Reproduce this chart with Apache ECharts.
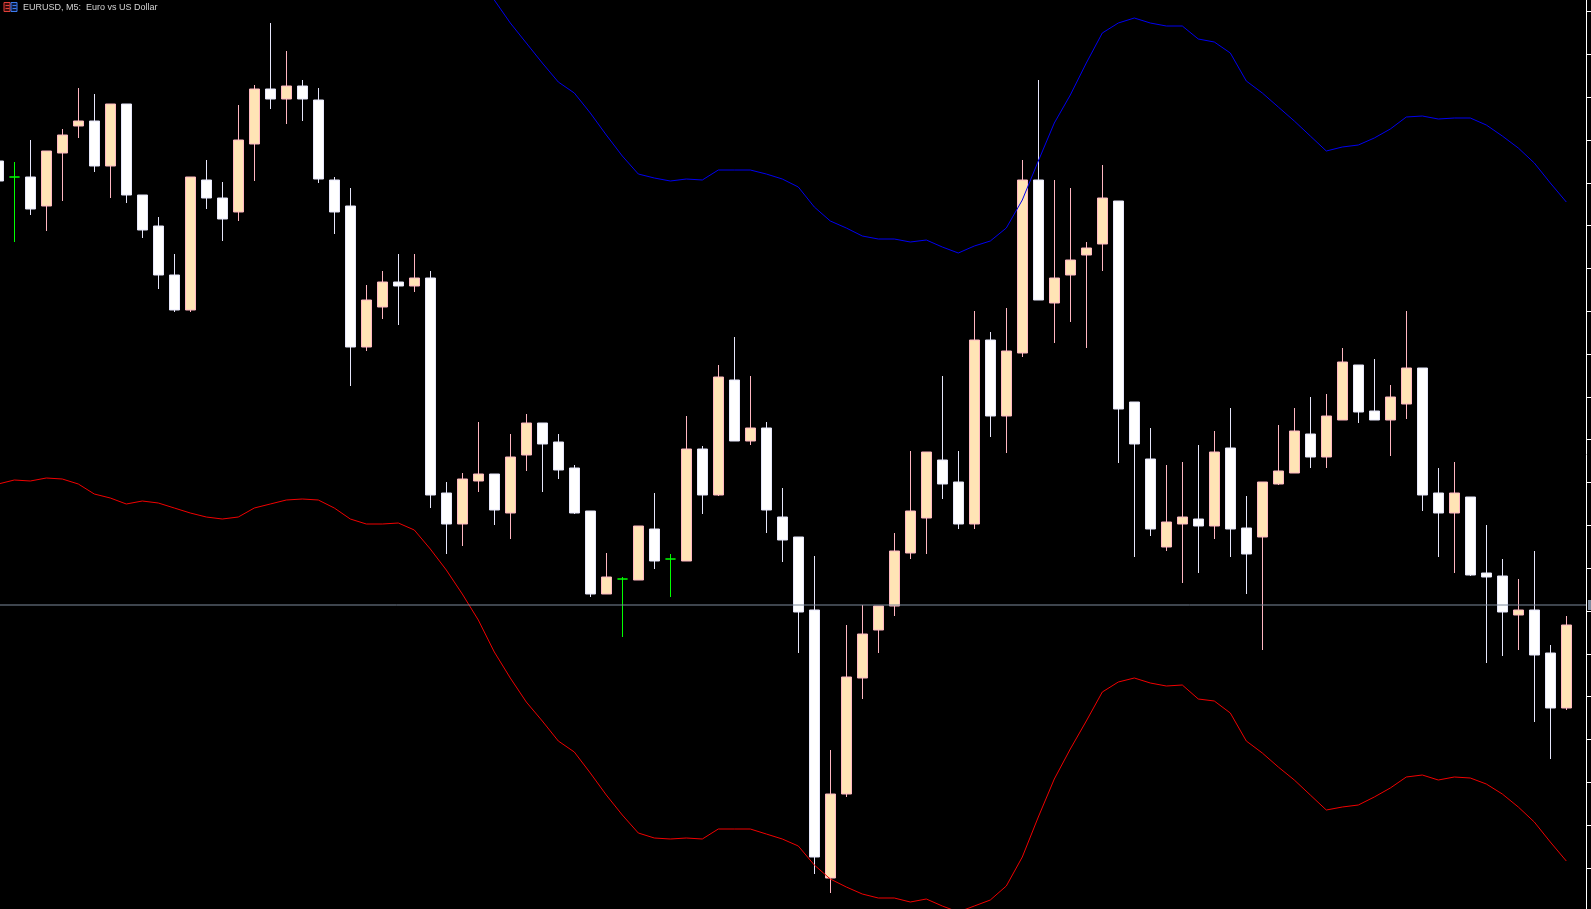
<!DOCTYPE html>
<html>
<head>
<meta charset="utf-8" />
<script src="https://cdn.jsdelivr.net/npm/echarts@6/dist/echarts.min.js"></script>
<style>
    html, body, #main {
        width: 100%;
        height: 100%;
        margin: 0;
        padding: 0;
        background: #000;
    }
</style>
</head>
<body>
<div id="main"></div>
<script>
// EURUSD M5 bars, oldest first
var times = [
    '10:00','10:05','10:10','10:15','10:20','10:25','10:30','10:35','10:40','10:45','10:50','10:55',
    '11:00','11:05','11:10','11:15','11:20','11:25','11:30','11:35','11:40','11:45','11:50','11:55',
    '12:00','12:05','12:10','12:15','12:20','12:25','12:30','12:35','12:40','12:45','12:50','12:55',
    '13:00','13:05','13:10','13:15','13:20','13:25','13:30','13:35','13:40','13:45','13:50','13:55',
    '14:00','14:05','14:10','14:15','14:20','14:25','14:30','14:35','14:40','14:45','14:50','14:55',
    '15:00','15:05','15:10','15:15','15:20','15:25','15:30','15:35','15:40','15:45','15:50','15:55',
    '16:00','16:05','16:10','16:15','16:20','16:25','16:30','16:35','16:40','16:45','16:50','16:55',
    '17:00','17:05','17:10','17:15','17:20','17:25','17:30','17:35','17:40','17:45','17:50','17:55',
    '18:00','18:05','18:10'
];

var opens = [
    1.08839, 1.08823, 1.08823, 1.08794, 1.08847, 1.08874, 1.08879, 1.08834, 1.08896, 1.08805,
    1.08774, 1.08725, 1.08690, 1.08820, 1.08802, 1.08788, 1.08856, 1.08911, 1.08901, 1.08914,
    1.08900, 1.08820, 1.08794, 1.08653, 1.08693, 1.08718, 1.08714, 1.08722, 1.08507, 1.08476,
    1.08519, 1.08526, 1.08487, 1.08545, 1.08577, 1.08558, 1.08532, 1.08489, 1.08406, 1.08421,
    1.08420, 1.08471, 1.08441, 1.08439, 1.08551, 1.08505, 1.08620, 1.08559, 1.08572, 1.08483,
    1.08463, 1.08390, 1.08122, 1.08206, 1.08322, 1.08370, 1.08394, 1.08447, 1.08482, 1.08540,
    1.08518, 1.08476, 1.08660, 1.08584, 1.08647, 1.08820, 1.08697, 1.08725, 1.08745, 1.08756,
    1.08799, 1.08598, 1.08541, 1.08453, 1.08476, 1.08481, 1.08474, 1.08552, 1.08472, 1.08463,
    1.08516, 1.08527, 1.08566, 1.08543, 1.08580, 1.08635, 1.08589, 1.08580, 1.08596, 1.08632,
    1.08507, 1.08487, 1.08503, 1.08427, 1.08424, 1.08385, 1.08390, 1.08347, 1.08292
];

var closes = [
    1.08819, 1.08823, 1.08791, 1.08849, 1.08865, 1.08879, 1.08834, 1.08896, 1.08805, 1.08770,
    1.08725, 1.08690, 1.08823, 1.08802, 1.08781, 1.08860, 1.08911, 1.08901, 1.08914, 1.08901,
    1.08821, 1.08788, 1.08653, 1.08700, 1.08718, 1.08714, 1.08722, 1.08505, 1.08476, 1.08521,
    1.08526, 1.08490, 1.08543, 1.08577, 1.08556, 1.08530, 1.08487, 1.08406, 1.08423, 1.08421,
    1.08474, 1.08439, 1.08441, 1.08551, 1.08505, 1.08623, 1.08559, 1.08572, 1.08490, 1.08460,
    1.08388, 1.08143, 1.08206, 1.08323, 1.08366, 1.08394, 1.08449, 1.08489, 1.08548, 1.08516,
    1.08476, 1.08660, 1.08584, 1.08649, 1.08820, 1.08700, 1.08722, 1.08740, 1.08752, 1.08802,
    1.08591, 1.08556, 1.08471, 1.08478, 1.08483, 1.08474, 1.08548, 1.08471, 1.08446, 1.08518,
    1.08529, 1.08569, 1.08543, 1.08584, 1.08638, 1.08588, 1.08580, 1.08603, 1.08632, 1.08505,
    1.08487, 1.08507, 1.08425, 1.08423, 1.08388, 1.08390, 1.08345, 1.08292, 1.08375
];

var highs = [
    1.08845, 1.08838, 1.08860, 1.08849, 1.08871, 1.08912, 1.08906, 1.08896, 1.08896, 1.08805,
    1.08783, 1.08746, 1.08823, 1.08840, 1.08818, 1.08895, 1.08915, 1.08977, 1.08949, 1.08920,
    1.08912, 1.08823, 1.08812, 1.08715, 1.08729, 1.08746, 1.08746, 1.08729, 1.08518, 1.08527,
    1.08578, 1.08526, 1.08566, 1.08586, 1.08577, 1.08566, 1.08535, 1.08489, 1.08447, 1.08423,
    1.08474, 1.08507, 1.08446, 1.08584, 1.08554, 1.08635, 1.08663, 1.08624, 1.08578, 1.08512,
    1.08463, 1.08444, 1.08250, 1.08375, 1.08395, 1.08394, 1.08467, 1.08549, 1.08548, 1.08624,
    1.08549, 1.08689, 1.08668, 1.08692, 1.08840, 1.08920, 1.08820, 1.08812, 1.08758, 1.08835,
    1.08799, 1.08598, 1.08572, 1.08535, 1.08538, 1.08555, 1.08569, 1.08592, 1.08504, 1.08518,
    1.08575, 1.08592, 1.08603, 1.08606, 1.08652, 1.08635, 1.08641, 1.08615, 1.08689, 1.08632,
    1.08532, 1.08538, 1.08503, 1.08475, 1.08441, 1.08421, 1.08449, 1.08355, 1.08384
];

var lows = [
    1.08810, 1.08758, 1.08785, 1.08769, 1.08799, 1.08862, 1.08828, 1.08802, 1.08797, 1.08762,
    1.08711, 1.08688, 1.08688, 1.08791, 1.08759, 1.08779, 1.08819, 1.08891, 1.08876, 1.08879,
    1.08817, 1.08766, 1.08614, 1.08649, 1.08681, 1.08675, 1.08708, 1.08492, 1.08446, 1.08454,
    1.08508, 1.08475, 1.08461, 1.08529, 1.08508, 1.08521, 1.08486, 1.08403, 1.08406, 1.08363,
    1.08420, 1.08431, 1.08403, 1.08439, 1.08486, 1.08504, 1.08559, 1.08555, 1.08467, 1.08438,
    1.08347, 1.08126, 1.08107, 1.08203, 1.08301, 1.08347, 1.08384, 1.08441, 1.08446, 1.08501,
    1.08471, 1.08471, 1.08563, 1.08547, 1.08643, 1.08700, 1.08657, 1.08678, 1.08652, 1.08729,
    1.08537, 1.08443, 1.08464, 1.08449, 1.08417, 1.08427, 1.08461, 1.08443, 1.08406, 1.08350,
    1.08515, 1.08527, 1.08532, 1.08532, 1.08580, 1.08577, 1.08580, 1.08544, 1.08581, 1.08489,
    1.08443, 1.08427, 1.08424, 1.08337, 1.08344, 1.08350, 1.08278, 1.08241, 1.08290
];

// bollinger bands as shown on the chart (upper one is off the top at first)
var upperBand = [
    null, null, null, null, null, null, null, null, null, null,
    null, null, null, null, null, null, null, null, null, null,
    null, null, null, null, null, null, null, null, null,
    1.09044, 1.09022, 1.09000, 1.08977, 1.08957, 1.08937, 1.08918, 1.08907, 1.08887, 1.08865,
    1.08844, 1.08826, 1.08822, 1.08819, 1.08821, 1.08820, 1.08830, 1.08830, 1.08830, 1.08826,
    1.08821, 1.08813, 1.08793, 1.08779, 1.08772, 1.08764, 1.08761, 1.08761, 1.08758, 1.08760,
    1.08753, 1.08747, 1.08754, 1.08759, 1.08772, 1.08800, 1.08839, 1.08877, 1.08905, 1.08937,
    1.08967, 1.08977, 1.08982, 1.08977, 1.08974, 1.08974, 1.08961, 1.08958, 1.08947, 1.08919,
    1.08907, 1.08893, 1.08879, 1.08864, 1.08849, 1.08853, 1.08855, 1.08862, 1.08871, 1.08883,
    1.08884, 1.08881, 1.08882, 1.08882, 1.08875, 1.08864, 1.08852, 1.08837, 1.08817, 1.08798
];

var lowerBand = [
    1.08516, 1.08520, 1.08519, 1.08522, 1.08521, 1.08516, 1.08506, 1.08502, 1.08496, 1.08499,
    1.08497, 1.08492, 1.08487, 1.08483, 1.08481, 1.08483, 1.08492, 1.08496, 1.08500, 1.08501,
    1.08500, 1.08492, 1.08481, 1.08476, 1.08476, 1.08477, 1.08470, 1.08451, 1.08430, 1.08406,
    1.08380, 1.08348, 1.08322, 1.08298, 1.08279, 1.08259, 1.08248, 1.08227, 1.08205, 1.08185,
    1.08167, 1.08162, 1.08161, 1.08162, 1.08161, 1.08171, 1.08171, 1.08171, 1.08166, 1.08161,
    1.08154, 1.08135, 1.08121, 1.08113, 1.08106, 1.08102, 1.08102, 1.08098, 1.08101, 1.08094,
    1.08088, 1.08094, 1.08100, 1.08114, 1.08143, 1.08183, 1.08221, 1.08251, 1.08279, 1.08308,
    1.08318, 1.08322, 1.08317, 1.08314, 1.08315, 1.08301, 1.08299, 1.08287, 1.08259, 1.08247,
    1.08233, 1.08220, 1.08205, 1.08190, 1.08193, 1.08195, 1.08203, 1.08212, 1.08223, 1.08225,
    1.08220, 1.08223, 1.08222, 1.08216, 1.08206, 1.08193, 1.08178, 1.08158, 1.08139
];

// unlabelled price-scale tick marks
var priceTicks = [
    1.0898840, 1.0894559, 1.0890278, 1.0885997, 1.0881716, 1.0877435, 1.0873154,
    1.0868873, 1.0864592, 1.0860311, 1.0856030, 1.0851749, 1.0847468, 1.0843187,
    1.0838906, 1.0834625, 1.0830344, 1.0826063, 1.0821782, 1.0817501, 1.0813220
];

var priceLine = 1.08395;
var priceMin = 1.08091;
var priceMax = 1.09000;
// bar index range shown (first bar is cut by the left edge)
var barMin = 0.10625;
var barMax = 99.23125;

var chart = echarts.init(document.getElementById('main'));

var dojiStyle = {
    color: '#00ff00', color0: '#00ff00',
    borderColor: '#00ff00', borderColor0: '#00ff00', borderColorDoji: '#00ff00'
};
var candles = [];
var upperData = [];
var lowerData = [];
for (var i = 0; i < times.length; i++) {
    var item = { value: [i, opens[i], closes[i], lows[i], highs[i]] };
    if (opens[i] === closes[i]) item.itemStyle = dojiStyle;
    candles.push(item);
    upperData.push([i, upperBand[i]]);
    lowerData.push([i, lowerBand[i]]);
}

chart.setOption({
    backgroundColor: '#000000',
    animation: false,
    title: {
        text: 'EURUSD, M5:  Euro vs US Dollar',
        left: 23,
        top: 3,
        padding: 0,
        textStyle: {
            color: '#d4d4d4',
            fontSize: 9,
            fontWeight: 'normal',
            fontFamily: 'Liberation Sans'
        }
    },
    graphic: [
        {
            type: 'group',
            left: 3,
            top: 2,
            children: [
                { type: 'rect', shape: { x: 0.5, y: 0.5, width: 6, height: 9 }, style: { fill: '#3a0b0b', stroke: '#e0403a', lineWidth: 1 } },
                { type: 'line', shape: { x1: 2, y1: 3.5, x2: 6, y2: 3.5 }, style: { stroke: '#e0403a' } },
                { type: 'line', shape: { x1: 2, y1: 6.5, x2: 6, y2: 6.5 }, style: { stroke: '#e0403a' } },
                { type: 'rect', shape: { x: 7.5, y: 0.5, width: 6, height: 9 }, style: { fill: '#0b1a3e', stroke: '#3c7cf0', lineWidth: 1 } },
                { type: 'line', shape: { x1: 9, y1: 3.5, x2: 13, y2: 3.5 }, style: { stroke: '#3c7cf0' } },
                { type: 'line', shape: { x1: 9, y1: 6.5, x2: 13, y2: 6.5 }, style: { stroke: '#3c7cf0' } }
            ]
        }
    ],
    grid: { left: 0, right: 5, top: 0, bottom: 0 },
    xAxis: {
        type: 'value',
        min: barMin,
        max: barMax,
        show: false
    },
    yAxis: {
        type: 'value',
        min: priceMin,
        max: priceMax,
        position: 'right',
        axisLine: { show: true, lineStyle: { color: '#ffffff', width: 1 } },
        axisTick: {
            show: true,
            inside: false,
            length: 6,
            customValues: priceTicks,
            lineStyle: { color: '#ffffff', width: 1 }
        },
        axisLabel: { show: false },
        splitLine: { show: false }
    },
    series: [
        {
            name: 'Upper band',
            type: 'line',
            data: upperData,
            symbol: 'none',
            connectNulls: false,
            silent: true,
            lineStyle: { color: '#0000f0', width: 1 }
        },
        {
            name: 'Lower band',
            type: 'line',
            data: lowerData,
            symbol: 'none',
            silent: true,
            lineStyle: { color: '#f00000', width: 1 }
        },
        {
            // current price line across the whole chart
            name: 'Bid',
            type: 'line',
            data: [[barMin, priceLine], [barMax, priceLine]],
            symbol: 'none',
            silent: true,
            clip: false,
            lineStyle: { color: '#7d8a9c', width: 1 },
            endLabel: {
                show: true,
                formatter: ' ',
                fontSize: 6,
                distance: 2,
                padding: [2, 4],
                backgroundColor: '#7d8a9c'
            }
        },
        {
            name: 'EURUSD',
            type: 'candlestick',
            data: candles,
            encode: { x: 0, y: [1, 2, 3, 4] },
            barWidth: 10,
            clip: false,
            itemStyle: {
                color: '#ffe4b5',
                color0: '#ffffff',
                borderColor: '#ffb6c1',
                borderColor0: '#e6e6fa',
                borderColorDoji: '#00ff00',
                borderWidth: 1
            }
        }
    ]
});
</script>
</body>
</html>
